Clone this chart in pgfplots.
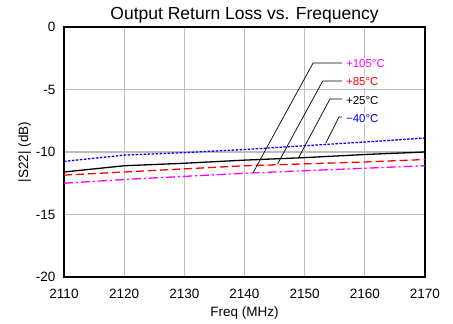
\documentclass[border=0pt]{standalone}
\usepackage{fontspec}
\setmainfont{Liberation Sans}
\usepackage{pgfplots}
\pgfplotsset{compat=1.18}
\definecolor{gridc}{RGB}{190,190,190}
\definecolor{cblue}{RGB}{0,0,255}
\definecolor{cred}{RGB}{255,0,0}
\definecolor{cmag}{RGB}{255,0,255}
\begin{document}
\begin{tikzpicture}
\useasboundingbox (-64pt,-47pt) rectangle (389pt,277pt);
\begin{axis}[
  at={(0,0)}, anchor=south west,
  scale only axis, width=361pt, height=250pt,
  xmin=2110, xmax=2170, ymin=-20, ymax=0,
  xtick={2110,2120,...,2170},
  xticklabels={2110,2120,2130,2140,2150,2160,2170},
  ytick={-20,-15,-10,-5,0},
  yticklabels={-20,-15,-10,-5,0},
  major tick length=0pt,
  grid=major,
  major grid style={gridc, line width=1.1pt},
  axis line style={black, line width=1.6pt},
  tick label style={font=\fontsize{13.5}{15}\selectfont},
  xticklabel style={yshift=-9pt},
  yticklabel style={xshift=-5pt},
  xlabel={Freq (MHz)},
  ylabel={|S22| (dB)},
  label style={font=\fontsize{13.5}{15}\selectfont},
  xlabel style={yshift=-1pt},
  ylabel style={yshift=-2pt},
  title={Output Return Loss vs. Frequency},
  title style={font=\fontsize{17.5}{19}\selectfont, yshift=-6pt},
  clip=false,
]
\addplot[cblue, line width=1.3pt, dash pattern=on 2.5pt off 1.5pt] coordinates {
(2110,-10.75) (2120,-10.25) (2130,-10.05) (2140,-9.8) (2150,-9.5) (2160,-9.2) (2170,-8.88)};
\addplot[black, line width=1.3pt] coordinates {
(2110,-11.6) (2120,-11.1) (2130,-10.9) (2140,-10.65) (2150,-10.45) (2160,-10.2) (2170,-10.0)};
\addplot[cred, line width=1.3pt, dash pattern=on 8pt off 4pt] coordinates {
(2110,-11.85) (2120,-11.6) (2130,-11.35) (2140,-11.1) (2150,-10.95) (2160,-10.8) (2170,-10.6)};
\addplot[cmag, line width=1.3pt, dash pattern=on 9pt off 3pt on 2pt off 3pt] coordinates {
(2110,-12.5) (2120,-12.2) (2130,-11.95) (2140,-11.7) (2150,-11.5) (2160,-11.3) (2170,-11.1)};
% annotations
\draw[black, line width=0.7pt] (axis cs:2141.4,-11.68) -- (axis cs:2151.4,-2.88) -- (axis cs:2156.2,-2.88);
\draw[black, line width=0.7pt] (axis cs:2145.5,-10.95) -- (axis cs:2153.0,-4.32) -- (axis cs:2156.2,-4.32);
\draw[black, line width=0.7pt] (axis cs:2149.0,-10.45) -- (axis cs:2154.2,-5.76) -- (axis cs:2156.2,-5.76);
\draw[black, line width=0.7pt] (axis cs:2153.5,-9.3) -- (axis cs:2155.7,-7.2) -- (axis cs:2156.2,-7.2);
\tikzset{lab/.style={anchor=west, fill=white, inner sep=1.5pt, font=\fontsize{11.5}{13}\selectfont}}
\node[lab, text=cmag] at (axis cs:2156.6,-2.95) {+105°C};
\node[lab, text=cred] at (axis cs:2156.6,-4.4) {+85°C};
\node[lab, text=black] at (axis cs:2156.6,-5.85) {+25°C};
\node[lab, text=cblue] at (axis cs:2156.6,-7.3) {−40°C};
\end{axis}
\end{tikzpicture}
\end{document}
